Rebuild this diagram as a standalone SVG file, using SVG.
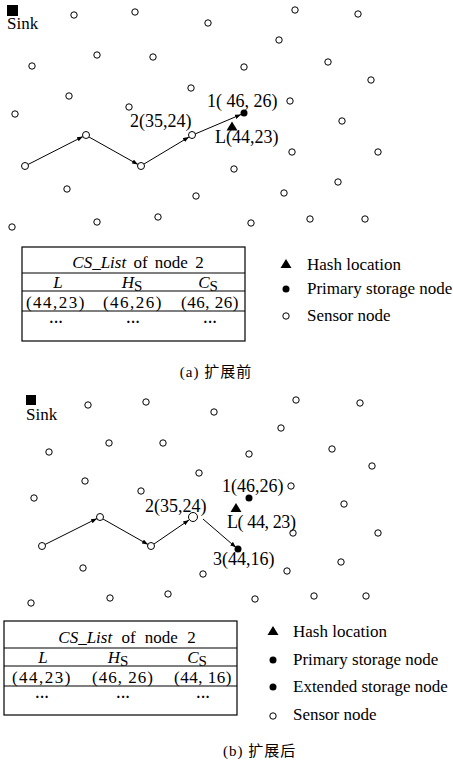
<svg xmlns="http://www.w3.org/2000/svg" width="453" height="762" viewBox="0 0 453 762">
<style>
text{font-family:"Liberation Serif","Times New Roman",serif;font-size:17px;fill:#000}
.lbl{font-size:18px}
.cap{font-family:"Liberation Serif","Noto Sans CJK SC",serif;font-size:15px;letter-spacing:1px}
.it{font-style:italic}
.s{fill:#fff;stroke:#000;stroke-width:1}
.d{fill:#000}
.e{stroke:#000;stroke-width:1;fill:none}
.tb{fill:none;stroke:#000;stroke-width:1.2}
.mid{text-anchor:middle}
.dot3{font-size:14px;font-weight:bold}
</style>
<defs>
<marker id="ah" viewBox="0 0 8 6" refX="8" refY="3" markerWidth="6" markerHeight="4.5" markerUnits="userSpaceOnUse" orient="auto"><path d="M0,0L8,3L0,6z" fill="#000"/></marker>
<circle id="sn" r="3.2" class="s"/>
</defs>
<!-- ===== (a) ===== -->
<g id="a-sink"><rect x="7" y="5" width="11" height="11" fill="#000"/><text x="7" y="29">Sink</text></g>
<g id="a-sensors">
<use href="#sn" x="74" y="15"/><use href="#sn" x="135" y="12"/><use href="#sn" x="208" y="23"/><use href="#sn" x="295" y="10"/><use href="#sn" x="358" y="14"/>
<use href="#sn" x="279" y="40"/><use href="#sn" x="97" y="55"/><use href="#sn" x="153" y="57"/><use href="#sn" x="32" y="66"/><use href="#sn" x="244" y="67"/>
<use href="#sn" x="328" y="62"/><use href="#sn" x="371" y="80"/><use href="#sn" x="191" y="88"/><use href="#sn" x="69" y="96"/><use href="#sn" x="290" y="101"/>
<use href="#sn" x="129" y="107"/><use href="#sn" x="15" y="114"/><use href="#sn" x="342" y="121"/><use href="#sn" x="292" y="152"/><use href="#sn" x="378" y="152"/>
<use href="#sn" x="234" y="169"/><use href="#sn" x="67" y="189"/><use href="#sn" x="196" y="196"/><use href="#sn" x="338" y="182"/><use href="#sn" x="284" y="193"/>
<use href="#sn" x="12" y="227"/><use href="#sn" x="97" y="222"/><use href="#sn" x="158" y="217"/><use href="#sn" x="251" y="223"/><use href="#sn" x="310" y="219"/><use href="#sn" x="365" y="219"/>
</g>
<g id="a-connectors">
<line class="e" x1="28" y1="164.5" x2="83" y2="136.5" marker-end="url(#ah)"/>
<line class="e" x1="89" y1="137" x2="138" y2="164.5" marker-end="url(#ah)"/>
<line class="e" x1="144" y1="164" x2="189" y2="137" marker-end="url(#ah)"/>
<line class="e" x1="195" y1="134" x2="241" y2="114.5" marker-end="url(#ah)"/>
</g>
<g id="a-path-nodes">
<circle cx="25" cy="166" r="3.5" class="s"/><circle cx="86" cy="135" r="3.5" class="s"/><circle cx="141" cy="166" r="3.5" class="s"/><circle cx="192" cy="135" r="3.5" class="s"/>
</g>
<g id="a-node2"><text x="130" y="127" class="lbl">2(35,24)</text></g>
<g id="a-node1"><circle cx="244" cy="113" r="3.5" class="d"/><text x="207" y="107" class="lbl">1( 46, 26)</text></g>
<g id="a-hash"><path d="M232,121.5L237.5,130.5H226.5Z" class="d"/><text x="215" y="143" class="lbl">L(44,23)</text></g>
<g id="a-table">
<rect class="tb" x="22" y="247" width="223" height="94"/>
<line class="tb" x1="22" y1="273" x2="245" y2="273"/>
<line class="tb" x1="22" y1="291" x2="245" y2="291"/>
<line class="tb" x1="22" y1="311" x2="245" y2="311"/>
<text x="138" y="268" class="mid" word-spacing="3"><tspan class="it">CS_List</tspan> of node 2</text>
<text x="58" y="288" class="mid it">L</text>
<text x="132" y="288" class="mid"><tspan class="it">H</tspan><tspan dy="3" font-size="15">S</tspan></text>
<text x="208" y="288" class="mid"><tspan class="it">C</tspan><tspan dy="3" font-size="15">S</tspan></text>
<text x="56" y="308" class="mid" letter-spacing="1.5">(44,23)</text>
<text x="133" y="308" class="mid" letter-spacing="1.5">(46,26)</text>
<text x="210" y="308" class="mid" letter-spacing="0.5">(46, 26)</text>
<text x="56" y="327" class="mid dot3">···</text>
<text x="133" y="327" class="mid dot3">···</text>
<text x="210" y="327" class="mid dot3">···</text>
</g>
<g id="a-legend">
<path d="M286,259L291.5,268H280.5Z" class="d"/><text x="307" y="270">Hash location</text>
<circle cx="286" cy="289" r="3.5" class="d"/><text x="307" y="294">Primary storage node</text>
<circle cx="286" cy="316" r="3.2" class="s"/><text x="307" y="321">Sensor node</text>
</g>
<g id="a-caption"><text x="216" y="377" class="cap mid">(a) 扩展前</text></g>
<!-- ===== (b) ===== -->
<g id="b-sink"><rect x="26" y="395" width="10" height="10" fill="#000"/><text x="26" y="420">Sink</text></g>
<g id="b-sensors">
<use href="#sn" x="88" y="405"/><use href="#sn" x="146" y="402"/><use href="#sn" x="214" y="412"/><use href="#sn" x="296" y="400"/><use href="#sn" x="360" y="403"/>
<use href="#sn" x="281" y="428"/><use href="#sn" x="109" y="443"/><use href="#sn" x="163" y="443"/><use href="#sn" x="49" y="452"/><use href="#sn" x="249" y="454"/>
<use href="#sn" x="332" y="449"/><use href="#sn" x="372" y="466"/><use href="#sn" x="85" y="481"/><use href="#sn" x="199" y="473"/><use href="#sn" x="291" y="486"/>
<use href="#sn" x="141" y="491"/><use href="#sn" x="34" y="498"/><use href="#sn" x="344" y="504"/><use href="#sn" x="293" y="533"/><use href="#sn" x="378" y="533"/>
<use href="#sn" x="83" y="568"/><use href="#sn" x="203" y="574"/><use href="#sn" x="341" y="562"/><use href="#sn" x="287" y="571"/>
<use href="#sn" x="31" y="603"/><use href="#sn" x="110" y="598"/><use href="#sn" x="168" y="594"/><use href="#sn" x="255" y="599"/><use href="#sn" x="314" y="596"/><use href="#sn" x="366" y="596"/>
</g>
<g id="b-connectors">
<line class="e" x1="45" y1="544.5" x2="97" y2="518.5" marker-end="url(#ah)"/>
<line class="e" x1="103" y1="519" x2="148" y2="544.5" marker-end="url(#ah)"/>
<line class="e" x1="154" y1="544" x2="189" y2="520" marker-end="url(#ah)"/>
<line class="e" x1="203" y1="519" x2="236" y2="547.5" marker-end="url(#ah)"/>
</g>
<g id="b-path-nodes">
<circle cx="42" cy="546" r="3.5" class="s"/><circle cx="100" cy="517" r="3.5" class="s"/><circle cx="151" cy="546" r="3.5" class="s"/><circle cx="193" cy="517" r="4.5" class="s"/>
</g>
<g id="b-node2"><text x="145" y="512" class="lbl">2(35,24)</text></g>
<g id="b-node1"><circle cx="249" cy="498" r="3.5" class="d"/><text x="222" y="492" class="lbl">1(46,26)</text></g>
<g id="b-hash"><path d="M236,503L241.5,512H230.5Z" class="d"/><text x="227" y="528" class="lbl" letter-spacing="-0.4">L( 44, 23)</text></g>
<g id="b-node3"><circle cx="238" cy="549" r="3.5" class="d"/><text x="213" y="565" class="lbl">3(44,16)</text></g>
<g id="b-table">
<rect class="tb" x="4" y="621" width="233" height="94"/>
<line class="tb" x1="4" y1="648" x2="237" y2="648"/>
<line class="tb" x1="4" y1="666" x2="237" y2="666"/>
<line class="tb" x1="4" y1="686" x2="237" y2="686"/>
<text x="127" y="643" class="mid" word-spacing="5"><tspan class="it">CS_List</tspan> of node 2</text>
<text x="43" y="663" class="mid it">L</text>
<text x="118" y="663" class="mid"><tspan class="it">H</tspan><tspan dy="3" font-size="15">S</tspan></text>
<text x="197" y="663" class="mid"><tspan class="it">C</tspan><tspan dy="3" font-size="15">S</tspan></text>
<text x="42" y="683" class="mid" letter-spacing="1.5">(44,23)</text>
<text x="123" y="683" class="mid" letter-spacing="1">(46, 26)</text>
<text x="203" y="683" class="mid" letter-spacing="0.5">(44, 16)</text>
<text x="42" y="702" class="mid dot3">···</text>
<text x="123" y="702" class="mid dot3">···</text>
<text x="203" y="702" class="mid dot3">···</text>
</g>
<g id="b-legend">
<path d="M273,626L278.5,635H267.5Z" class="d"/><text x="293" y="637">Hash location</text>
<circle cx="273" cy="660" r="3.5" class="d"/><text x="293" y="665">Primary storage node</text>
<circle cx="273" cy="687" r="3.5" class="d"/><text x="293" y="692">Extended storage node</text>
<circle cx="273" cy="716" r="3.2" class="s"/><text x="293" y="720">Sensor node</text>
</g>
<g id="b-caption"><text x="223" y="756" class="cap">(b)  扩展后</text></g>
</svg>
